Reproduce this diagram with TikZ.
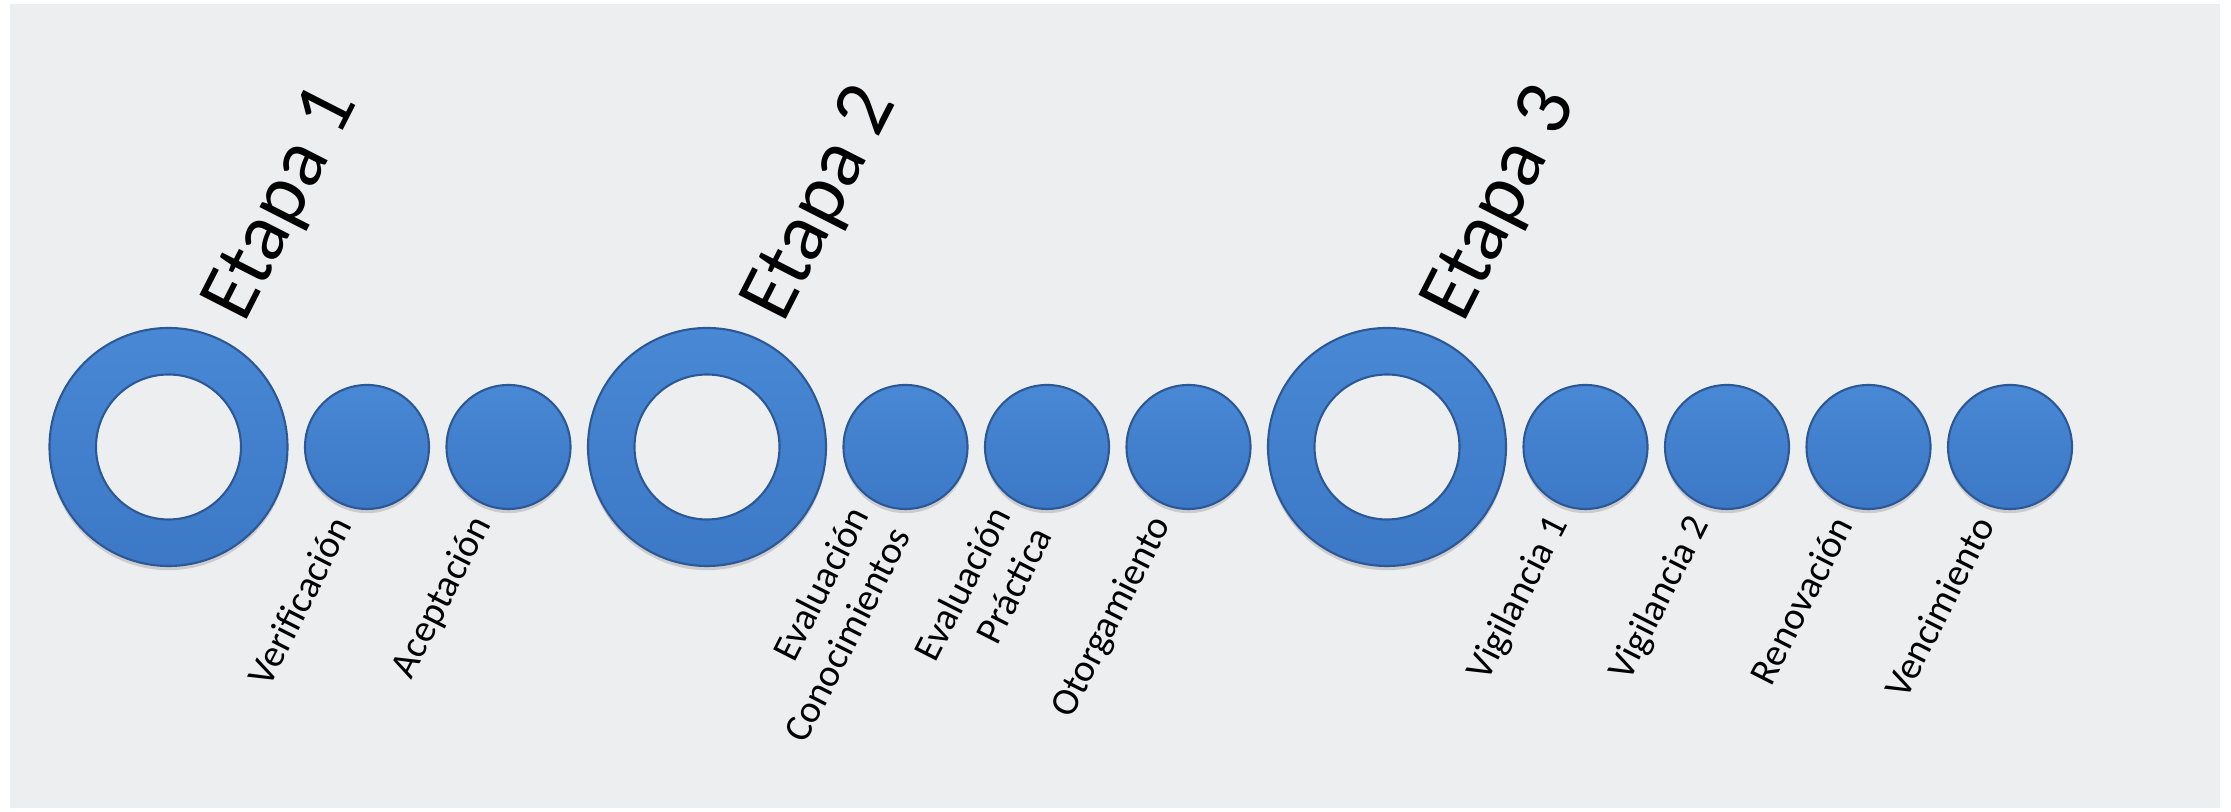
\documentclass[tikz,border=0pt]{standalone}
\usepackage{fontspec}
\setmainfont{Carlito}
\usetikzlibrary{positioning,shadows}

\definecolor{steplight}{RGB}{72,136,212}
\definecolor{stepdark}{RGB}{60,120,198}
\definecolor{stepedge}{RGB}{44,88,150}
\definecolor{slidegray}{RGB}{237,238,240}

\begin{document}
\begin{tikzpicture}[
		dot/.style   = {circle, draw=stepedge, line width=0.6pt, top color=steplight, bottom color=stepdark, inner sep=0pt, outer sep=0pt, minimum size=12.4mm, drop shadow={shadow xshift=0pt, shadow yshift=-1.2pt, opacity=0.3}},
		ring/.style  = {dot, minimum size=23.8mm},
		hole/.style  = {circle, draw=stepedge, line width=0.6pt, fill=slidegray, inner sep=0pt, minimum size=14.5mm},
		stage/.style = {font=\fontsize{23.5}{28}\selectfont, rotate=63, anchor=base west, inner sep=0pt},
		task/.style  = {font=\fontsize{11}{13.3}\selectfont, rotate=63, anchor=east, align=right, inner sep=0pt},
		node distance=1.75mm]
	
	\useasboundingbox (0,0) rectangle (22.31,8.12);
	\fill[slidegray] (0.10,0.04) rectangle (22.20,8.08);
	
	% chain of stages
	\node[ring] (r1) at (1.685,3.65) {};
	\node[dot, right=of r1] (d1) {};
	\node[dot, right=of d1] (d2) {};
	\node[ring, right=of d2] (r2) {};
	\node[dot, right=of r2] (d3) {};
	\node[dot, right=of d3] (d4) {};
	\node[dot, right=of d4] (d5) {};
	\node[ring, right=of d5] (r3) {};
	\node[dot, right=of r3] (d6) {};
	\node[dot, right=of d6] (d7) {};
	\node[dot, right=of d7] (d8) {};
	\node[dot, right=of d8] (d9) {};
	
	\foreach \r in {1,2,3}
	\node[hole] (h\r) at (r\r.center) {};
	
	\foreach \r in {1,2,3}
	\node[stage] (e\r) at ([shift={(0.76,1.22)}]r\r.center) {Etapa \r};
	
	\foreach \d/\txt in {1/Verificación, 2/Aceptación, 3/{Evaluación\\Conocimientos}, 4/{Evaluación\\Práctica}, 5/Otorgamiento, 6/Vigilancia 1, 7/Vigilancia 2, 8/Renovación, 9/Vencimiento}
	\node[task] (t\d) at ([shift={(-0.26,-0.72)}]d\d.center) {\txt};
\end{tikzpicture}
\end{document}
